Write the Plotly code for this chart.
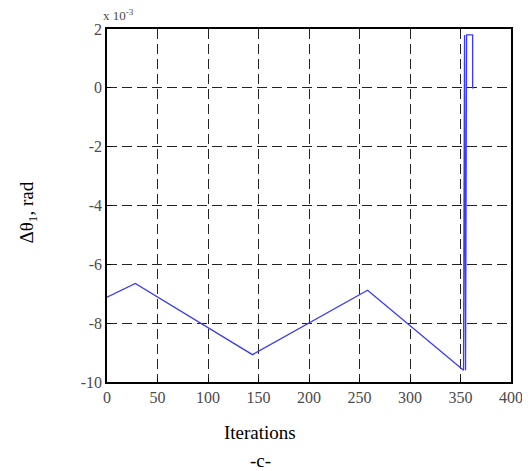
import plotly.graph_objects as go

# Data (values in units of 1e-3 rad)
iterations = [0, 28, 144, 258, 353, 354, 355, 356, 362, 362, 363]
delta_theta = [-7.12, -6.65, -9.07, -6.88, -9.6, 1.8, -9.6, 1.8, 1.8, 0.0, 0.0]

x_ticks = [0, 50, 100, 150, 200, 250, 300, 350, 400]
y_ticks = [-10, -8, -6, -4, -2, 0, 2]
y_tick_labels = ["-10", "-8", "-6", "-4", "-2", "0", "2"]

serif = "Liberation Serif, Times New Roman, serif"

fig = go.Figure()
fig.add_trace(go.Scatter(
    x=iterations, y=delta_theta, mode="lines",
    line=dict(color="#3a3af0", width=1.3),
    showlegend=False, hoverinfo="skip",
))

axis_common = dict(
    showline=True, linecolor="black", linewidth=1.5, mirror=True,
    ticks="inside", ticklen=4, tickcolor="black", tickwidth=1,
    showgrid=True, gridcolor="#222222", gridwidth=1.2, griddash="10px,5px",
    zeroline=False, ticklabeloverflow="allow",
    tickfont=dict(family=serif, size=16, color="#4a4a4a"),
)

# page body has an 8px margin; figure sized to fit the remaining viewport
fig_center = (257 - 99) / 416

fig.update_layout(
    width=522, height=463,
    margin=dict(l=99, r=7, t=21, b=89),
    paper_bgcolor="white", plot_bgcolor="white",
    xaxis=dict(range=[0, 400], tickvals=x_ticks, **axis_common),
    yaxis=dict(range=[-10, 2], tickvals=y_ticks, ticktext=y_tick_labels, **axis_common),
    annotations=[
        dict(text="x 10<sup>-3</sup>", xref="paper", yref="paper", x=0.0, y=1.0,
             xanchor="left", yanchor="bottom", showarrow=False, xshift=-6, yshift=4,
             font=dict(family=serif, size=13, color="#4a4a4a")),
        dict(text="Δθ<sub>1</sub>, rad", xref="paper", yref="paper", x=0, y=0.48,
             xanchor="center", yanchor="middle", showarrow=False, textangle=-90,
             xshift=-79, font=dict(family=serif, size=19, color="black")),
        dict(text="Iterations", xref="paper", yref="paper", x=fig_center, y=0,
             xanchor="center", yanchor="middle", showarrow=False, yshift=-50,
             font=dict(family=serif, size=19, color="black")),
        dict(text="-c-", xref="paper", yref="paper", x=fig_center, y=0,
             xanchor="center", yanchor="middle", showarrow=False, yshift=-78,
             font=dict(family=serif, size=19, color="black")),
    ],
)

fig.write_html("out.html")
